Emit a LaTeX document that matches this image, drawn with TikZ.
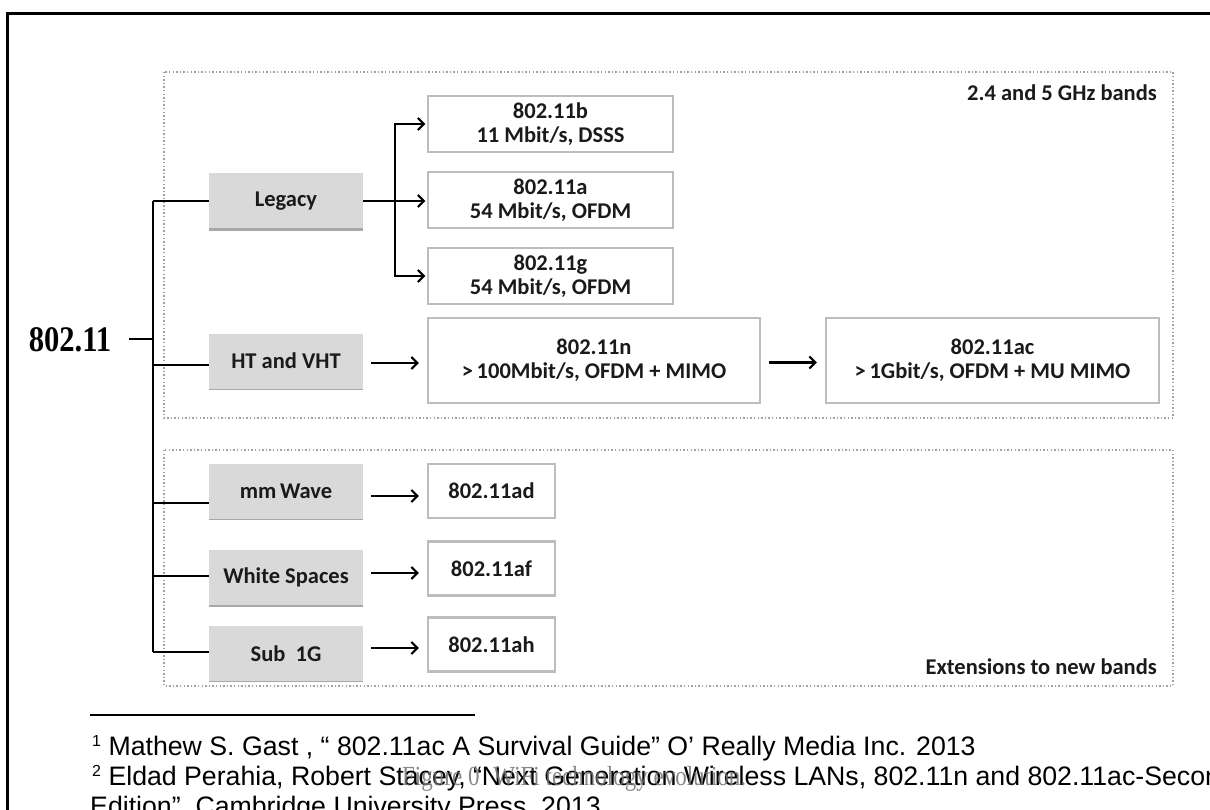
\documentclass[tikz,border=0pt]{standalone}
\usepackage{fontspec}
\usepackage{graphicx}
\setmainfont{Liberation Sans}
\newfontfamily\calfont{Carlito}
\newfontfamily\timesfont{Liberation Serif}
\usetikzlibrary{arrows.meta}
\definecolor{boxgray}{HTML}{D9D9D9}
\definecolor{shadowgray}{HTML}{A8A8A8}
\definecolor{bordergray}{HTML}{BDBDBD}
\definecolor{dotgray}{HTML}{A0A0A0}
\definecolor{textdark}{HTML}{1A1A1A}
\tikzset{
  dotbox/.style={draw=dotgray, line width=2pt, dash pattern=on 1.4pt off 2.2pt},
  boxfont/.style={font=\calfont\bfseries\fontsize{22.5}{24}\selectfont, text=textdark},
  graybox/.style={boxfont, fill=boxgray, minimum width=154pt, minimum height=55pt, inner sep=0pt},
  whitebox/.style={boxfont, draw=bordergray, line width=2.2pt, fill=white, align=center, inner sep=0pt},
  ln/.style={line width=2.2pt, black},
  arr/.style={line width=2.2pt, black, -{Straight Barb[length=6pt,width=12pt]}},
  fn/.style={font=\fontsize{26.7}{30}\selectfont, anchor=base west, inner sep=0pt},
  label/.style={boxfont, anchor=east, inner sep=0pt}
}
\newcommand{\fnmark}[1]{\raisebox{9pt}{\fontsize{16}{16}\selectfont #1}}
\begin{document}
\begin{tikzpicture}[x=1pt,y=-1pt]
\useasboundingbox (0,0) rectangle (1210,810);
\clip (0,0) rectangle (1210,810);
\fill[white] (0,0) rectangle (1210,810);
% frame
\coordinate (frTL) at (7.5,14);
\coordinate (frTR) at (1215,14);
\coordinate (frBL) at (7.5,815);
\draw[line width=3pt] (frBL) -- (frTL) -- (frTR);
% dotted groups
\draw[dotbox] (164,72) rectangle (1173,418);
\draw[dotbox] (164,450) rectangle (1173,686);
\node[label] (lab1) at (1157,93) {2.4 and 5 GHz bands};
\node[label] (lab2) at (1157,667) {Extensions to new bands};
% root
\node[inner sep=0pt] (root) at (70,340) {\scalebox{1.02}[1.2]{\timesfont\bfseries\fontsize{30}{30}\selectfont 802.11}};
% category boxes
\fill[shadowgray] (209,228) rectangle (363,231);
\fill[shadowgray] (209,387) rectangle (363,390);
\fill[shadowgray] (209,517) rectangle (363,520);
\fill[shadowgray] (209,604) rectangle (363,607);
\fill[shadowgray] (209,679) rectangle (363,682);
\node[graybox] (legacy) at (286,201) {Legacy};
\node[graybox] (ht) at (286,361) {HT and VHT};
\node[graybox] (mm) at (286,491.5) {mm\,Wave};
\node[graybox] (ws) at (286,577) {White Spaces};
\node[graybox] (sub) at (286,653.5) {Sub~~1G};
% standard boxes
\node[whitebox, minimum width=245pt, minimum height=56pt] (b11) at (550.5,124) {802.11b\\11 Mbit/s, DSSS};
\node[whitebox, minimum width=245pt, minimum height=56pt] (a11) at (550.5,200) {802.11a\\54 Mbit/s, OFDM};
\node[whitebox, minimum width=245pt, minimum height=56pt] (g11) at (550.5,276) {802.11g\\54 Mbit/s, OFDM};
\node[whitebox, minimum width=332pt, minimum height=85pt] (n11) at (594,360.5) {802.11n\\>\,100Mbit/s, OFDM + MIMO};
\node[whitebox, minimum width=333pt, minimum height=85pt] (ac11) at (992.5,360.5) {802.11ac\\>\,1Gbit/s, OFDM + MU MIMO};
\node[whitebox, minimum width=127pt, minimum height=54pt] (ad11) at (491.5,491) {802.11ad};
\node[whitebox, minimum width=127pt, minimum height=54pt] (af11) at (491.5,568.5) {802.11af};
\node[whitebox, minimum width=127pt, minimum height=54pt] (ah11) at (491.5,644.5) {802.11ah};
% trunk
\coordinate (tTop) at (153,201);
\coordinate (tBot) at (153,652);
\coordinate (tRoot) at (153,339);
\coordinate (tHT) at (153,365);
\coordinate (tMM) at (153,503);
\coordinate (tWS) at (153,576);
\draw[ln] (tTop) -- (tBot);
\draw[ln] ([xshift=18pt]root.east |- tRoot) -- (tRoot);
\draw[ln] (tTop) -- (tTop -| legacy.west);
\draw[ln] (tHT) -- (tHT -| ht.west);
\draw[ln] (tMM) -- (tMM -| mm.west);
\draw[ln] (tWS) -- (tWS -| ws.west);
\draw[ln] (tBot) -- (tBot -| sub.west);
% legacy fan-out
\coordinate (fork) at (395,201);
\draw[arr, shorten >=1.5pt] (legacy.east) -- (legacy.east -| a11.west);
\draw[arr, shorten >=1.5pt] (fork) |- (b11.west);
\draw[arr, shorten >=1.5pt] (fork) |- (g11.west);
% other arrows
\draw[arr] ([xshift=8pt,yshift=-2pt]ht.east) -- ([xshift=-8pt,yshift=-2pt]ht.east -| n11.west);
\draw[arr] ([xshift=8pt,yshift=-2pt]n11.east) -- ([xshift=-8pt,yshift=-2pt]n11.east -| ac11.west);
\draw[arr] ([xshift=8pt,yshift=-4.5pt]mm.east) -- ([xshift=-8pt,yshift=-4.5pt]mm.east -| ad11.west);
\draw[arr] ([xshift=8pt,yshift=4pt]ws.east) -- ([xshift=-8pt,yshift=4pt]ws.east -| af11.west);
\draw[arr] ([xshift=8pt,yshift=5.5pt]sub.east) -- ([xshift=-8pt,yshift=5.5pt]sub.east -| ah11.west);
% footnotes
\coordinate (fnL) at (90,715);
\coordinate (fnR) at (475,715);
\draw[line width=1.5pt] (fnL) -- (fnR);
\node[fn] (fn1) at (92,755) {\fnmark{1} Mathew S. Gast , “ 802.11ac A Survival Guide” O’ Really Media Inc. 2013};
\node[fn] (fn2) at (92,785) {\fnmark{2} Eldad Perahia, Robert Stacey, “Next Generation Wireless LANs, 802.11n and 802.11ac-Second};
\node[fn] (fn3) at (90,815) {Edition”, Cambridge University Press, 2013};
\node[anchor=base west, inner sep=0pt, text=black!55, opacity=0.85] (cap) at (402,785) {\scalebox{1}[1.2]{\timesfont\fontsize{23}{23}\selectfont Figure 0\hspace{14pt}WiFi technology evolution.}};
\end{tikzpicture}
\end{document}
